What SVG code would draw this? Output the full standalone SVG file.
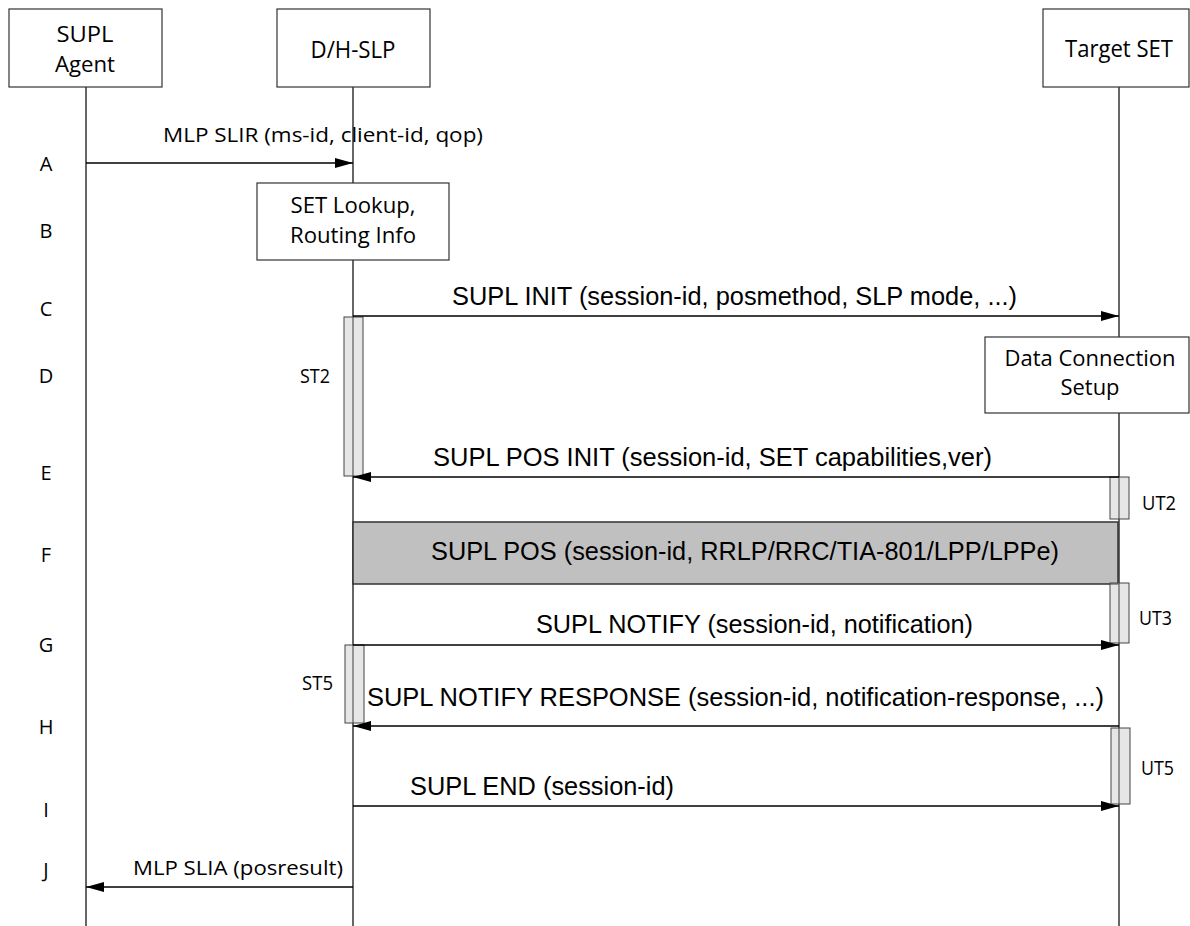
<svg xmlns="http://www.w3.org/2000/svg" width="1190" height="926" viewBox="0 0 1190 926">
<defs>
<marker id="ah" markerWidth="18" markerHeight="10" refX="18" refY="5" orient="auto" markerUnits="userSpaceOnUse">
<path d="M0,0 L18,5 L0,10 Z" fill="#000"/>
</marker>
<style>
.box{fill:#fff;stroke:#333;stroke-width:1.2}
.act{fill:#c8c8c8;fill-opacity:0.45;stroke:#444;stroke-width:1}
.life{stroke:#000;stroke-width:1.2;fill:none}
.msg{stroke:#000;stroke-width:1.3;fill:none;marker-end:url(#ah)}
.c{font-family:"Open Sans","Noto Sans",sans-serif;fill:#000}
.a{font-family:"Liberation Sans",Arial,sans-serif;font-size:25px;fill:#000}
.hd{font-size:24px}
.hd2{font-size:21px}
.lt{font-size:20px}
.mid{text-anchor:middle}
</style>
</defs>
<rect width="1190" height="926" fill="#fff"/>
<g id="lifelines">
<line class="life" x1="86" y1="87" x2="86" y2="926"/>
<line class="life" x1="353" y1="87" x2="353" y2="926"/>
<line class="life" x1="1119" y1="87" x2="1119" y2="926"/>
</g>
<g id="supl-agent">
<rect class="box" x="9" y="9" width="153" height="78"/>
<text class="c hd2 mid" x="85" y="42" textLength="57" lengthAdjust="spacingAndGlyphs">SUPL</text>
<text class="c hd2 mid" x="85" y="72" textLength="60" lengthAdjust="spacingAndGlyphs">Agent</text>
</g>
<g id="dh-slp">
<rect class="box" x="277" y="9" width="153" height="78"/>
<text class="c hd mid" x="353" y="58" textLength="85" lengthAdjust="spacingAndGlyphs">D/H-SLP</text>
</g>
<g id="target-set">
<rect class="box" x="1043" y="9" width="146" height="78"/>
<text class="c hd mid" x="1119" y="57" textLength="108" lengthAdjust="spacingAndGlyphs">Target SET</text>
</g>
<g id="set-lookup">
<rect class="box" x="257" y="183" width="192" height="77"/>
<text class="c hd2 mid" x="353" y="213" textLength="125" lengthAdjust="spacingAndGlyphs">SET Lookup,</text>
<text class="c hd2 mid" x="353" y="243" textLength="126" lengthAdjust="spacingAndGlyphs">Routing Info</text>
</g>
<g id="data-connection">
<rect class="box" x="985" y="337" width="204" height="76"/>
<text class="c hd2 mid" x="1090" y="366" textLength="171" lengthAdjust="spacingAndGlyphs">Data Connection</text>
<text class="c hd2 mid" x="1090" y="395" textLength="59" lengthAdjust="spacingAndGlyphs">Setup</text>
</g>
<g id="supl-pos">
<rect x="353" y="522" width="765" height="62" fill="#c0c0c0" stroke="#333" stroke-width="1.5"/>
<text class="a" x="431" y="560" textLength="628" lengthAdjust="spacingAndGlyphs">SUPL POS (session-id, RRLP/RRC/TIA-801/LPP/LPPe)</text>
</g>
<g id="timers">
<rect class="act" x="344" y="317" width="19" height="159"/>
<rect class="act" x="1110" y="477" width="19" height="42"/>
<rect class="act" x="1110" y="583" width="19" height="60"/>
<rect class="act" x="345" y="645" width="19" height="78"/>
<rect class="act" x="1111" y="728" width="19" height="76"/>
<text class="c lt" x="300" y="383" textLength="30" lengthAdjust="spacingAndGlyphs">ST2</text>
<text class="c lt" x="1142" y="510" textLength="34" lengthAdjust="spacingAndGlyphs">UT2</text>
<text class="c lt" x="1139" y="625" textLength="33" lengthAdjust="spacingAndGlyphs">UT3</text>
<text class="c lt" x="302" y="690" textLength="31" lengthAdjust="spacingAndGlyphs">ST5</text>
<text class="c lt" x="1141" y="775" textLength="33" lengthAdjust="spacingAndGlyphs">UT5</text>
</g>
<g id="connectors">
<line class="msg" x1="86" y1="163" x2="353" y2="163"/>
<line class="msg" x1="353" y1="316" x2="1119" y2="316"/>
<line class="msg" x1="1119" y1="477" x2="353" y2="477"/>
<line class="msg" x1="353" y1="645" x2="1119" y2="645"/>
<line class="msg" x1="1119" y1="726" x2="353" y2="726"/>
<line class="msg" x1="353" y1="806" x2="1119" y2="806"/>
<line class="msg" x1="353" y1="887" x2="86" y2="887"/>
</g>
<g id="message-labels">
<text class="c lt" x="163" y="142" textLength="320" lengthAdjust="spacingAndGlyphs">MLP SLIR (ms-id, client-id, qop)</text>
<text class="a" x="452" y="305" textLength="565" lengthAdjust="spacingAndGlyphs">SUPL INIT (session-id, posmethod, SLP mode, ...)</text>
<text class="a" x="433" y="466" textLength="559" lengthAdjust="spacingAndGlyphs">SUPL POS INIT (session-id, SET capabilities,ver)</text>
<text class="a" x="536" y="633" textLength="437" lengthAdjust="spacingAndGlyphs">SUPL NOTIFY (session-id, notification)</text>
<text class="a" x="367" y="706" textLength="737" lengthAdjust="spacingAndGlyphs">SUPL NOTIFY RESPONSE (session-id, notification-response, ...)</text>
<text class="a" x="410" y="795" textLength="264" lengthAdjust="spacingAndGlyphs">SUPL END (session-id)</text>
<text class="c lt" x="133" y="875" textLength="210" lengthAdjust="spacingAndGlyphs">MLP SLIA (posresult)</text>
</g>
<g id="step-letters">
<text class="c lt mid" x="46" y="171">A</text>
<text class="c lt mid" x="46" y="238">B</text>
<text class="c lt mid" x="46" y="316">C</text>
<text class="c lt mid" x="46" y="383">D</text>
<text class="c lt mid" x="46" y="480">E</text>
<text class="c lt mid" x="46" y="562">F</text>
<text class="c lt mid" x="46" y="652">G</text>
<text class="c lt mid" x="46" y="734">H</text>
<text class="c lt mid" x="46" y="817">I</text>
<text class="c lt mid" x="46" y="877">J</text>
</g>
</svg>
